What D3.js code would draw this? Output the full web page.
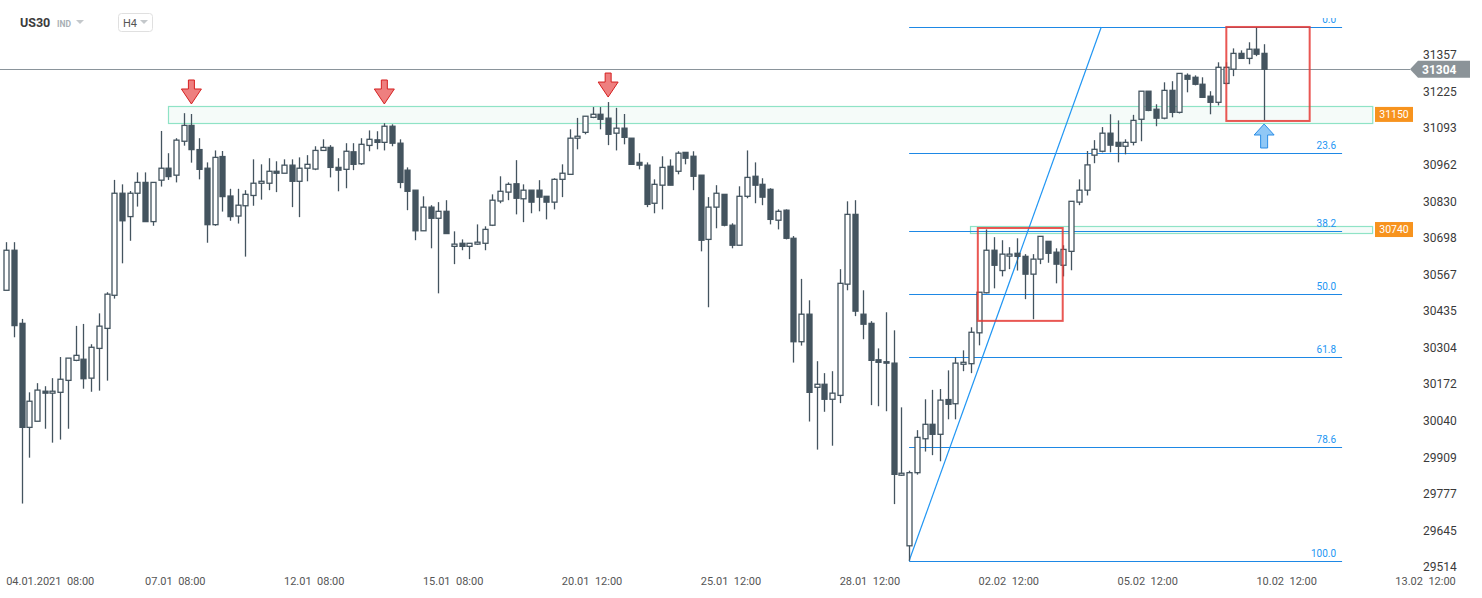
<!DOCTYPE html>
<html><head><meta charset="utf-8">
<script src="https://cdn.jsdelivr.net/npm/d3@7"></script>
<style>
html,body{margin:0;padding:0;background:#fff;}
svg text{font-family:Roboto,"Noto Sans",Arial,sans-serif;}
</style></head>
<body>
<svg id="chart" width="1482" height="598"></svg>
<script>
// ---- data (H4 candles, index order) ----
const opens  = [30509,30653,30390,30016,30038,30146,30139,30142,30185,30257,30261,30193,30300,30372,30491,30858,30774,30858,30897,30756,
30905,30948,30923,31045,31102,31015,30948,30745,30990,30848,30776,30813,30850,30894,30894,30937,30930,30959,30901,30948,
30945,31012,31023,30951,30944,31007,30964,31030,31050,31041,31099,31038,30941,30869,30723,30808,30768,30793,30667,30678,
30667,30675,30678,30743,30830,30862,30892,30838,30869,30869,30847,30826,30908,30926,31056,31077,31131,31142,31128,31074,
31092,31056,30969,30959,30822,30887,30955,30937,31005,30991,30923,30692,30808,30854,30743,30671,30847,30919,30890,30872,
30761,30797,30696,30324,30423,30160,30171,30117,30131,30531,30782,30423,30390,30259,30252,30247,29844,29590,29853,29975,
30027,29991,30116,30101,30243,30245,30356,30500,30653,30580,30632,30642,30631,30567,30621,30685,30646,30599,30649,30826,
30869,30995,31009,31074,31041,31027,31041,31124,31225,31160,31128,31228,31149,31282,31275,31250,31207,31185,31253,31304,
31361,31343,31376,31361];
const highs  = [30682,30682,30406,30142,30175,30164,30193,30269,30265,30381,30388,30315,30426,30502,30906,30890,30866,30933,30933,30897,
31082,31002,31056,31146,31143,31056,30969,31012,31010,30874,30874,30869,30980,30962,30984,30973,30980,30980,30987,30995,
31027,31052,31031,30984,31038,31038,31056,31084,31081,31110,31106,31052,30951,30869,30847,30815,30826,30833,30721,30692,
30678,30746,30739,30854,30919,30897,30977,30890,30869,30905,30847,30912,30962,31088,31129,31135,31168,31168,31186,31165,
31143,31056,31002,30969,30908,30991,30980,31009,31005,31009,30923,30844,30887,30854,30750,30883,31012,30969,30912,30876,
30800,30800,30704,30550,30473,30254,30211,30218,30585,30829,30833,30509,30398,30300,30430,30365,30088,29860,30006,30117,
30151,30154,30221,30268,30293,30376,30502,30728,30700,30689,30664,30696,30639,30639,30703,30685,30660,30671,30829,30908,
31010,31049,31096,31142,31120,31052,31140,31225,31225,31178,31257,31261,31289,31289,31282,31275,31225,31329,31329,31379,
31372,31401,31456,31394];
const lows   = [30509,30340,29742,29907,30038,30011,29961,29972,30011,30254,30155,30144,30148,30184,30479,30606,30687,30810,30756,30741,
30882,30906,30897,31029,30968,30908,30680,30741,30792,30759,30749,30630,30813,30835,30869,30862,30930,30808,30772,30901,
30941,31010,30915,30865,30876,30941,30960,31009,31016,31012,31027,30876,30797,30689,30723,30660,30498,30713,30603,30653,
30621,30672,30653,30740,30822,30833,30782,30754,30786,30793,30764,30800,30844,30926,31016,31070,31128,31088,31031,31012,
31034,30962,30944,30808,30786,30800,30887,30926,30962,30869,30649,30448,30732,30739,30660,30671,30840,30822,30815,30746,
30728,30692,30249,30310,30037,29936,30072,29950,30103,30509,30416,30333,30096,30092,30074,29740,29841,29536,29846,29929,
29916,29894,30045,30045,30218,30211,30311,30498,30516,30559,30585,30580,30477,30405,30603,30608,30534,30559,30581,30815,
30850,30966,31005,31005,30969,30998,31030,31045,31153,31099,31124,31131,31145,31221,31246,31203,31142,31174,31250,31279,
31343,31322,31351,31120];
const closes = [30653,30382,30016,30110,30150,30139,30146,30189,30265,30275,30191,30304,30380,30495,30858,30759,30858,30897,30756,30897,
30948,30918,31049,31102,31015,30944,30745,30987,30846,30774,30815,30854,30894,30901,30937,30930,30959,30901,30948,30962,
31012,31023,30951,30941,31009,30962,31034,31052,31041,31099,31038,30897,30865,30723,30808,30768,30793,30713,30675,30667,
30678,30682,30728,30833,30865,30890,30840,30869,30826,30844,30826,30908,30930,31056,31063,31135,31142,31124,31070,31092,
31059,30962,30959,30818,30890,30951,30887,31002,30984,30919,30689,30808,30858,30743,30671,30847,30915,30887,30844,30764,
30793,30696,30324,30423,30142,30171,30117,30139,30534,30782,30434,30387,30257,30250,30247,29847,29851,29853,29980,30027,
29991,30114,30099,30247,30250,30358,30502,30653,30599,30639,30639,30631,30567,30621,30703,30642,30603,30656,30829,30869,
30960,31016,31074,31031,31027,31041,31120,31225,31156,31128,31228,31149,31289,31268,31250,31203,31185,31311,31311,31361,
31343,31376,31358,31304];

// axis labels
const priceTicks = ["31357","31225","31093","30962","30830","30698","30567","30435","30304","30172","30040","29909","29777","29645","29514"];
const timeLabels = ["04.01.2021  08:00","07.01  08:00","12.01  08:00","15.01  08:00","20.01  12:00","25.01  12:00","28.01  12:00","02.02  12:00","05.02  12:00","10.02  12:00","13.02  12:00"];
const timeLabelIdx = [0,18,36,54,72,90,108,126,144,162,180];

// annotations (candle index, price)
const fibLevels = [0, 23.6, 38.2, 50, 61.8, 78.6, 100];
const fibLabels = ["0.0","23.6","38.2","50.0","61.8","78.6","100.0"];
const fibHigh = 31456, fibLow = 29536;
const fibStartIdx = 117, fibEndIdx = 173.1, fibTrendTopIdx = 141.9;
const zoneStartIdx = [20.96, 124.9];
const zoneEndIdx = 177.0;
const zoneTop = [31172, 30740];
const zoneBottom = [31111, 30715];
const zoneLabels = ["31150","30740"];
const boxX0 = [125.9, 158.1], boxX1 = [136.9, 168.9];
const boxTop = [30733, 31456], boxBottom = [30399, 31118];
const downArrowIdx = [24, 49, 78];
const downArrowTip = [31179, 31179, 31204];
const upArrowIdx = [163];
const upArrowTip = [31107];
const lastPrice = 31304;

// ---- scales ----
const svg = d3.select("#chart");
const x = d3.scaleLinear().domain([-0.8, 181.9]).range([0, 1410]);
const y = d3.scaleLinear().domain([29503, 31553]).range([570, 0]);

const candles = opens.map((o,i)=>({i, o, h:highs[i], l:lows[i], c:closes[i]}));
const COL = "#44545f";

svg.append("defs").append("clipPath").attr("id","plot")
  .append("rect").attr("x",0).attr("y",18).attr("width",1410).attr("height",554);

const plot = svg.append("g").attr("clip-path","url(#plot)");

// zones
zoneTop.forEach((t,k)=>{
  plot.append("rect")
    .attr("x", Math.round(x(zoneStartIdx[k]))+0.5).attr("y", Math.round(y(t))+0.5)
    .attr("width", x(zoneEndIdx)-x(zoneStartIdx[k]))
    .attr("height", Math.round(y(zoneBottom[k])-y(t)))
    .attr("fill","#f5fbf9").attr("stroke","#8fe3c6").attr("stroke-width",1.2);
});

// current price line
plot.append("line").attr("x1",0).attr("x2",1410)
  .attr("y1",Math.round(y(lastPrice))+0.5).attr("y2",Math.round(y(lastPrice))+0.5)
  .attr("stroke","#8a949b").attr("stroke-width",1);

// fib levels
const fibPrice = p => fibHigh - (fibHigh-fibLow)*p/100;
fibLevels.forEach((lv,k)=>{
  const yy = Math.round(y(fibPrice(lv)))+0.5;
  plot.append("line").attr("x1",x(fibStartIdx)).attr("x2",x(fibEndIdx))
    .attr("y1",yy).attr("y2",yy).attr("stroke","#1e88e5").attr("stroke-width",1);
  plot.append("text").attr("x",x(fibEndIdx)-6).attr("y",yy-5)
    .attr("text-anchor","end").attr("font-size",10).attr("fill","#2196f3").text(fibLabels[k]);
});
plot.append("line")
  .attr("x1",x(fibStartIdx)).attr("y1",y(fibLow))
  .attr("x2",x(fibTrendTopIdx)).attr("y2",y(fibHigh))
  .attr("stroke","#2196f3").attr("stroke-width",1.2);

// candles
const bw = 5;
const cg = plot.append("g");
cg.selectAll("line.wick").data(candles).join("line")
  .attr("x1",d=>Math.round(x(d.i))+0.5).attr("x2",d=>Math.round(x(d.i))+0.5)
  .attr("y1",d=>y(d.h)).attr("y2",d=>y(d.l))
  .attr("stroke",COL).attr("stroke-width",1.3);
cg.selectAll("rect.body").data(candles).join("rect")
  .attr("x",d=>Math.round(x(d.i))+0.5-bw/2)
  .attr("y",d=>y(Math.max(d.o,d.c)))
  .attr("width",bw)
  .attr("height",d=>Math.max(1.2, Math.abs(y(d.o)-y(d.c))))
  .attr("fill",d=>d.c>=d.o?"#ffffff":COL)
  .attr("stroke",COL).attr("stroke-width",1.3);

// red boxes
boxTop.forEach((t,k)=>{
  plot.append("rect").attr("x",x(boxX0[k])).attr("y",y(t))
    .attr("width",x(boxX1[k])-x(boxX0[k])).attr("height",y(boxBottom[k])-y(t))
    .attr("fill","none").attr("stroke","#e53935").attr("stroke-opacity",0.85).attr("stroke-width",2);
});

// arrows
function downArrow(cx, ty){
  const top = ty-24;
  return `M${cx-3},${top} L${cx+3},${top} L${cx+3},${top+9} L${cx+10},${top+9} L${cx},${ty} L${cx-10},${top+9} L${cx-3},${top+9} Z`;
}
function upArrow(cx, ty){
  const bot = ty+24;
  return `M${cx-3.5},${bot} L${cx+3.5},${bot} L${cx+3.5},${ty+11} L${cx+10},${ty+11} L${cx},${ty} L${cx-10},${ty+11} L${cx-3.5},${ty+11} Z`;
}
downArrowIdx.forEach((ix,k)=>{
  plot.append("path").attr("d",downArrow(x(ix), y(downArrowTip[k])))
    .attr("fill","#ee7f7f").attr("stroke","#d52020").attr("stroke-width",1);
});
upArrowIdx.forEach((ix,k)=>{
  plot.append("path").attr("d",upArrow(x(ix), y(upArrowTip[k])))
    .attr("fill","#90c8f6").attr("stroke","#2a8de6").attr("stroke-width",1);
});

// zone badges
zoneTop.forEach((t,k)=>{
  const cy = (y(t)+y(zoneBottom[k]))/2;
  svg.append("rect").attr("x",1375).attr("y",cy-7.5).attr("width",38).attr("height",15).attr("fill","#f7931e");
  svg.append("text").attr("x",1394).attr("y",cy+3.8).attr("text-anchor","middle")
    .attr("font-size",10.5).attr("fill","#fff").text(zoneLabels[k]);
});

// y axis labels
svg.append("g").selectAll("text").data(priceTicks).join("text")
  .attr("x",1423).attr("y",d=>y(+d)+4.5)
  .attr("font-size",12).attr("fill","#3a3a3a").text(d=>d);

// last price badge
const ly = y(lastPrice);
svg.append("path").attr("d",`M1410,${ly} L1418,${ly-8.5} L1470,${ly-8.5} L1470,${ly+8.5} L1418,${ly+8.5} Z`).attr("fill","#8b9398");
svg.append("text").attr("x",1422).attr("y",ly+4.5).attr("font-size",12).attr("font-weight","bold").attr("fill","#fff").text(String(lastPrice));

// time labels
svg.append("g").selectAll("text").data(timeLabels).join("text")
  .attr("x",(d,k)=>x(timeLabelIdx[k])).attr("y",585)
  .attr("font-size",11).attr("fill","#555").attr("xml:space","preserve")
  .style("white-space","pre").text(d=>d);

// header
const hdr = svg.append("g");
hdr.append("text").attr("x",20).attr("y",27).attr("font-size",12.5).attr("font-weight","bold").attr("fill","#3c3c3c").text("US30");
hdr.append("text").attr("x",57).attr("y",27).attr("font-size",8.5).attr("font-weight","bold").attr("fill","#a9b0b5").text("IND");
hdr.append("path").attr("d","M76,20 L84,20 L80,24 Z").attr("fill","#c4c8cb");
hdr.append("rect").attr("x",118.5).attr("y",13.5).attr("width",34).attr("height",18).attr("rx",3)
  .attr("fill","#fff").attr("stroke","#e0e0e0");
hdr.append("text").attr("x",123).attr("y",27).attr("font-size",11).attr("fill","#555").text("H4");
hdr.append("path").attr("d","M140,20 L148,20 L144,24 Z").attr("fill","#c4c8cb");
</script>
</body></html>
